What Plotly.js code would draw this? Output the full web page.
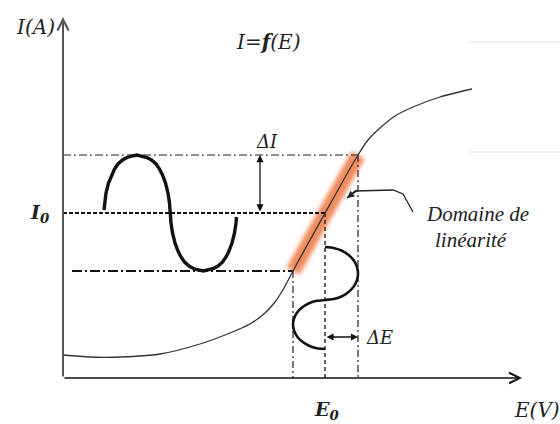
<!DOCTYPE html>
<html>
<head>
<meta charset="utf-8">
<script src="https://cdn.plot.ly/plotly-3.0.1.min.js"></script>
<style>
  html, body { margin: 0; padding: 0; background: #fff; }
  #chart { width: 560px; height: 424px; }
  /* soft glow on the linear-region highlight */
  .traceband .js-line { filter: blur(2.2px); }
</style>
</head>
<body>
<div id="chart"></div>
<script>
// Characteristic I = f(E): current vs. voltage (arbitrary units)
const curveE = [0.0, 2.7, 5.7, 9.7, 13.7, 16.7, 18.7, 20.2, 21.2, 22.1, 23.0, 29.5, 30.5, 31.7, 33.2, 35.0, 37.7, 40.9];
const curveI = [2.3, 2.1, 2.1, 2.4, 3.4, 4.5, 5.4, 6.5, 7.6, 9.0, 10.7, 22.3, 23.8, 25.0, 26.2, 27.1, 28.1, 28.9];

// Operating point and swings
const E0 = 26.2, I0 = 16.5;
const Elow = 23.0, Ehigh = 29.5;
const Ilow = 10.7, Ihigh = 22.3;

// Linear region highlight
const bandE = [Elow, Ehigh];
const bandI = [Ilow, Ihigh];

// Current swing drawn against time (left)
const waveIE = [4.10, 4.15, 4.30, 4.55, 4.85, 5.15, 5.50, 5.95, 6.40, 6.75, 7.40,
                8.05, 8.40, 8.85, 9.30, 9.65, 9.95, 10.25, 10.50, 10.65, 10.70,
                10.80, 10.95, 11.20, 11.50, 11.80, 12.15, 12.60, 13.05, 13.40, 14.05,
                14.70, 15.05, 15.50, 15.95, 16.30, 16.60, 16.90, 17.15, 17.30, 17.35];
const waveII = [16.8, 17.5, 18.5, 19.5, 20.3, 20.9, 21.4, 21.8, 22.05, 22.17, 22.3,
                22.17, 22.05, 21.8, 21.4, 20.9, 20.3, 19.5, 18.5, 17.5, 16.5,
                15.5, 14.5, 13.5, 12.7, 12.1, 11.6, 11.2, 10.95, 10.83, 10.7,
                10.83, 10.95, 11.2, 11.6, 12.1, 12.7, 13.5, 14.5, 15.5, 16.1];

// Voltage swing drawn against time (downwards)
const waveEE = [26.2, 27.05, 27.85, 28.53, 29.06, 29.39, 29.5, 29.39, 29.06, 28.53, 27.85, 27.05, 26.2,
                25.37, 24.6, 23.94, 23.43, 23.11, 23.0, 23.11, 23.43, 23.94, 24.6, 25.37, 26.2];
const waveEI = [13.1, 13.01, 12.75, 12.32, 11.78, 11.14, 10.45, 9.76, 9.13, 8.58, 8.15, 7.89, 7.8,
                7.72, 7.47, 7.08, 6.58, 5.98, 5.35, 4.72, 4.13, 3.62, 3.23, 2.98, 2.9];

// Axes extents
const axisEmax = 45.9, axisImax = 36.1;

// Pointer to the "Domaine de linéarité" label
const calloutE = [35.0, 34.0, 33.0, 29.2, 28.4];
const calloutI = [16.6, 18.4, 18.8, 18.7, 18.0];
const calloutTail = [29.6, 18.9];

// Positions of the swing markers
const dIE = 19.7;   // ΔI arrow abscissa
const dEI = 4.1;    // ΔE arrow ordinate

// Faint guide strokes on the right margin
const faintE = [40.7, 49.7];
const faintI1 = [33.6, 33.6];
const faintI2 = [22.6, 22.6];

const traces = [
  { uid: 'band', x: bandE, y: bandI, mode: 'lines',
    line: { color: 'rgba(238,120,65,0.85)', width: 15 } },
  { x: faintE, y: faintI1, mode: 'lines', line: { color: '#eeeeee', width: 2 } },
  { x: faintE, y: faintI2, mode: 'lines', line: { color: '#eeeeee', width: 2 } },
  // guide lines
  { x: [0, Ehigh], y: [Ihigh, Ihigh], mode: 'lines',
    line: { color: '#222', width: 1.2, dash: '8px,3px,2px,3px' } },
  { x: [0, E0], y: [I0, I0], mode: 'lines',
    line: { color: '#111', width: 2, dash: '4px,2px' } },
  { x: [0.9, Elow], y: [Ilow, Ilow], mode: 'lines',
    line: { color: '#111', width: 2, dash: '10px,3px,2px,3px' } },
  { x: [Elow, Elow], y: [Ilow, 0], mode: 'lines',
    line: { color: '#222', width: 1.2, dash: '7px,3px,2px,3px' } },
  { x: [E0, E0], y: [I0, 0], mode: 'lines',
    line: { color: '#222', width: 1.4, dash: '4px,3px' } },
  { x: [Ehigh, Ehigh], y: [Ihigh, 0], mode: 'lines',
    line: { color: '#222', width: 1.2, dash: '7px,3px,2px,3px' } },
  // characteristic
  { x: curveE, y: curveI, mode: 'lines',
    line: { color: '#333', width: 1.3, shape: 'spline', smoothing: 0.8 } },
  // swings
  { x: waveIE, y: waveII, mode: 'lines',
    line: { color: '#111', width: 3.4 } },
  { x: waveEE, y: waveEI, mode: 'lines',
    line: { color: '#111', width: 2.6, shape: 'spline', smoothing: 0.5 } },
  // callout pointer
  { x: calloutE, y: calloutI, mode: 'lines', line: { color: '#222', width: 1.3 } }
];

const serif = '"Liberation Serif", serif';
const wideSerif = '"DejaVu Serif", serif';
function label(x, y, text, size, family) {
  return { x: x, y: y, xref: 'x', yref: 'y', text: text, showarrow: false,
    xanchor: 'center', yanchor: 'middle',
    font: { family: family || serif, size: size, color: '#222' } };
}
function arrow(x, y, ax, ay, opts) {
  return Object.assign({ x: x, y: y, ax: ax, ay: ay, xref: 'x', yref: 'y', axref: 'x', ayref: 'y',
    text: '', showarrow: true, arrowhead: 2, arrowsize: 1, arrowwidth: 1.3, arrowcolor: '#111' }, opts || {});
}

const annotations = [
  // axes
  arrow(0, axisImax, 0, 0, { arrowhead: 5, arrowwidth: 2, arrowsize: 1.1, arrowcolor: '#555' }),
  arrow(axisEmax, 0, 0, 0, { arrowhead: 5, arrowwidth: 1.6, arrowsize: 1.3, arrowcolor: '#111' }),
  // swing markers
  arrow(dIE, Ihigh, dIE, I0, { arrowside: 'end+start', arrowhead: 2, arrowsize: 1.1 }),
  arrow(Ehigh, dEI, E0, dEI, { arrowside: 'end+start', arrowhead: 2, arrowsize: 1.1 }),
  // pointer head
  arrow(calloutE[4], calloutI[4], calloutTail[0], calloutTail[1], { arrowhead: 2, arrowsize: 1.1, arrowwidth: 1.3, arrowcolor: '#222' }),
  // texts
  label(-2.8, 35.1, '<i>I(A)</i>', 20, wideSerif),
  label(20.5, 33.6, '<i>I=<b>f</b>(E)</i>', 20, wideSerif),
  label(20.4, 23.7, '<i>ΔI</i>', 18, wideSerif),
  label(-2.3, 16.5, '<b><i>I<sub>0</sub></i></b>', 19, wideSerif),
  label(41.4, 16.4, '<i>Domaine de</i>', 21),
  label(40.8, 13.8, '<i>linéarité</i>', 21),
  label(31.6, 4.1, '<i>ΔE</i>', 18, wideSerif),
  label(26.3, -3.2, '<b><i>E<sub>0</sub></i></b>', 19, wideSerif),
  label(47.4, -3.2, '<i>E(V)</i>', 20, wideSerif)
];

const layout = {
  width: 560, height: 424,
  margin: { l: 0, r: 0, t: 0, b: 0 },
  paper_bgcolor: '#fff', plot_bgcolor: '#fff',
  showlegend: false,
  xaxis: { range: [-6.3, 49.7], visible: false, fixedrange: true },
  yaxis: { range: [-4.6, 37.8], visible: false, fixedrange: true },
  annotations: annotations
};

Plotly.newPlot('chart', traces, layout, { staticPlot: true, displayModeBar: false });
</script>
</body>
</html>
